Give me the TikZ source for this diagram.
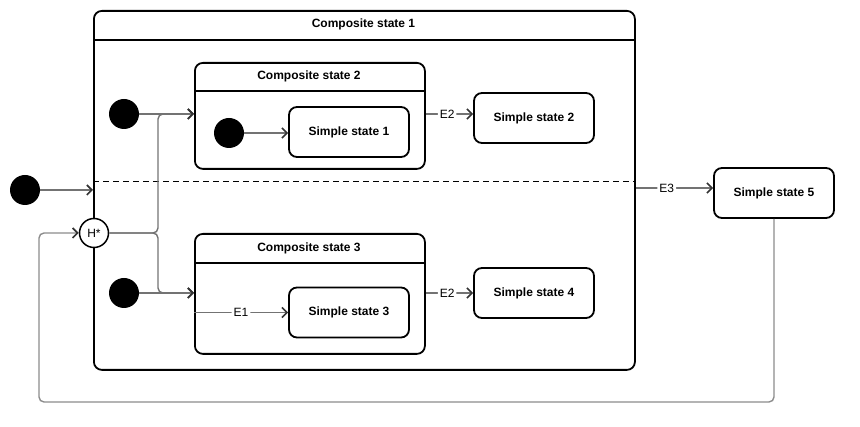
\documentclass[tikz,border=0pt]{standalone}
\usepackage{fontspec}
\setmainfont{Liberation Sans}
\usetikzlibrary{arrows.meta}

\begin{document}
\begin{tikzpicture}[x=1pt, y=-1pt,
		font=\fontsize{12}{14}\selectfont,
		box/.style={draw, line width=1.8pt, rounded corners=8pt, inner sep=0pt},
		simple/.style={box, minimum width=120pt, minimum height=50pt, font=\fontsize{12}{14}\selectfont\bfseries},
		comp/.style={box, anchor=north west},
		title/.style={font=\fontsize{12}{14}\selectfont\bfseries},
		sep/.style={line width=1.4pt},
		init/.style={circle, fill=black, minimum size=30pt, inner sep=0pt},
		hist/.style={circle, draw, line width=1.5pt, fill=white, minimum size=29pt, inner sep=0pt},
		trans/.style={draw=black!55, line width=1.4pt, rounded corners=5pt, -{Straight Barb[length=5pt, width=10pt, line width=1.6pt, color=black!80]}},
		ev/.style={fill=white, inner sep=2pt}]
	\useasboundingbox (0, 0) rectangle (860, 427);

	\node[comp, minimum width=541pt, minimum height=359pt] at (93, 10) (cs1) {};
	\node[title] at (363.5, 24) (cs1t) {Composite state 1};
	\draw[sep] (cs1.west |- 0, 40) -- (cs1.east |- 0, 40);
	\draw[line width=1pt, dash pattern=on 6pt off 4pt] (cs1.west |- 0, 182) -- (cs1.east |- 0, 182);

	\node[comp, minimum width=230pt, minimum height=106pt] at (194, 62) (cs2) {};
	\node[title] at (309, 76) (cs2t) {Composite state 2};
	\draw[sep] (cs2.west |- 0, 91) -- (cs2.east |- 0, 91);

	\node[comp, minimum width=230pt, minimum height=120pt] at (194, 233) (cs3) {};
	\node[title] at (309, 248) (cs3t) {Composite state 3};
	\draw[sep] (cs3.west |- 0, 263) -- (cs3.east |- 0, 263);

	\node[simple] at (349, 132) (ss1) {Simple state 1};
	\node[simple] at (534, 118) (ss2) {Simple state 2};
	\node[simple] at (349, 312.5) (ss3) {Simple state 3};
	\node[simple] at (534, 293) (ss4) {Simple state 4};
	\node[simple] at (774, 193) (ss5) {Simple state 5};

	\node[init] at (25, 190) (i0) {};
	\node[init] at (124, 114) (i1) {};
	\node[init] at (229, 133) (i2) {};
	\node[init] at (124, 293) (i3) {};
	\node[hist] at (94, 233) (h) {H*};

	\coordinate (fork) at (158, 233);
	\coordinate (back) at (39, 402);

	\draw[trans] (i0) -- (cs1.west |- i0);
	\draw[trans] (i1) -- (cs2.west |- i1);
	\draw[trans] (i2) -- (ss1.west |- i2);
	\draw[trans] (i3) -- (cs3.west |- i3);
	\draw[trans] (h) -- (fork) |- (cs2.west |- i1);
	\draw[trans] (h) -- (fork) |- (cs3.west |- i3);

	\draw[trans] (cs3.west |- ss3) -- node[ev] (e1) {E1} (ss3);
	\draw[trans] (cs2.east |- 0, 114) -- node[ev, pos=0.45] (e2a) {E2} (ss2.west |- 0, 114);
	\draw[trans] (cs3.east |- ss4) -- node[ev, pos=0.45] (e2b) {E2} (ss4);
	\draw[trans] (cs1.east |- 0, 188) -- node[ev, pos=0.4] (e3) {E3} (ss5.west |- 0, 188);
	\draw[trans, draw=black!45] (ss5.south) |- (back) |- (h.west);
\end{tikzpicture}
\end{document}
